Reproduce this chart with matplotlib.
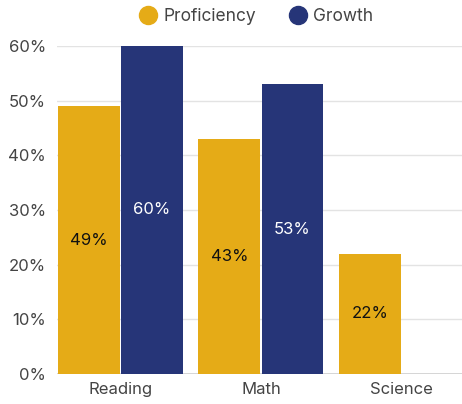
import numpy as np
import matplotlib.pyplot as plt
from matplotlib.lines import Line2D

categories = ["Reading", "Math", "Science"]
proficiency = [49, 43, 22]
growth = [60, 53, None]

gold = "#E5AB17"
navy = "#263578"

plt.rcParams['font.family'] = ['Inter', 'DejaVu Sans']

fig = plt.figure(figsize=(4.62, 4.04), dpi=100)
ax = fig.add_axes([57 / 462, 30 / 404, 1 - 57 / 462, (374 - 46) / 404])

x = np.arange(len(categories))
w = 0.44
off = 0.225

for i, v in enumerate(proficiency):
    ax.bar(x[i] - off, v, w, color=gold, zorder=3)
    ax.text(x[i] - off, v / 2, f"{v}%", ha="center", va="center",
            color="#111111", fontsize=12, zorder=4)
for i, v in enumerate(growth):
    if v is None:
        continue
    ax.bar(x[i] + off, v, w, color=navy, zorder=3)
    ax.text(x[i] + off, v / 2, f"{v}%", ha="center", va="center",
            color="white", fontsize=12, zorder=4)

ax.set_ylim(0, 60)
ax.set_xlim(-0.45, 2.43)
ax.set_yticks(range(0, 61, 10))
ax.set_yticklabels([f"{t}%" for t in range(0, 61, 10)])
ax.set_xticks(x)
ax.set_xticklabels(categories)
ax.tick_params(axis="both", length=0, labelsize=12, colors="#444444")
ax.tick_params(axis="y", pad=8)
ax.tick_params(axis="x", pad=6)
ax.yaxis.grid(True, color="#e3e3e3", linewidth=1, zorder=0)
for s in ax.spines.values():
    s.set_visible(False)
ax.axhline(0, color="#d0d0d0", linewidth=1.2, zorder=2)

handles = [
    Line2D([], [], marker="o", linestyle="", markersize=13, color=gold),
    Line2D([], [], marker="o", linestyle="", markersize=13, color=navy),
]
fig.legend(handles, ["Proficiency", "Growth"], loc="upper center",
           bbox_to_anchor=(0.555, 1.018), ncol=2, frameon=False,
           fontsize=12.5, labelcolor="#444444", handlelength=1.0,
           handletextpad=0.4, columnspacing=1.9)

fig.savefig("out.png", dpi=100)
